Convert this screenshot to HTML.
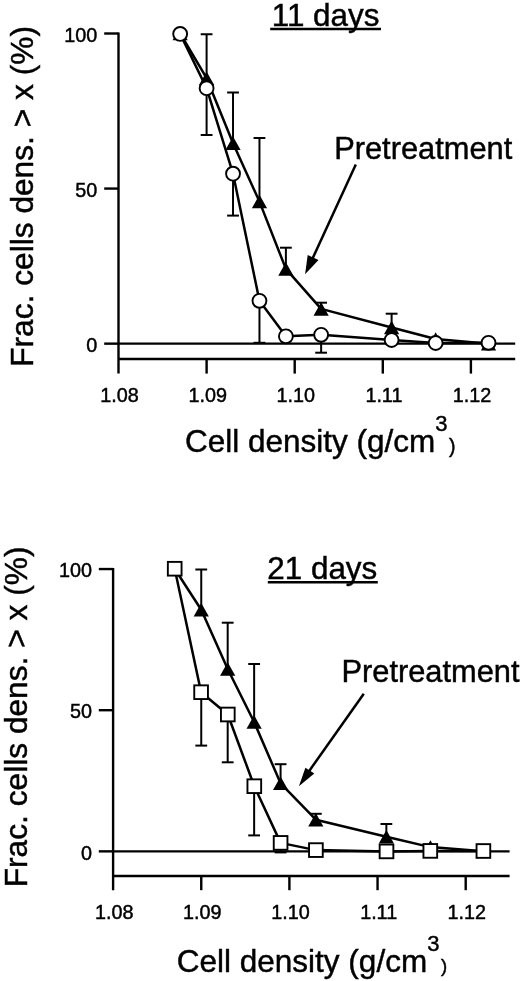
<!DOCTYPE html>
<html><head><meta charset="utf-8"><title>Cell density fractions</title>
<style>
html,body{margin:0;padding:0;background:#fff;}
body{width:520px;height:981px;overflow:hidden;}
svg{display:block;}
</style></head>
<body>
<svg width="520" height="981" viewBox="0 0 520 981" font-family='"Liberation Sans", Arial, Helvetica, sans-serif'>
<rect x="0" y="0" width="520" height="981" fill="#fff"/>
<g fill="#000" stroke="#000">
<line x1="118.50" y1="32.40" x2="118.50" y2="373.60" stroke-width="2.4"/>
<line x1="104.20" y1="33.50" x2="118.50" y2="33.50" stroke-width="2.4"/>
<line x1="104.20" y1="188.57" x2="118.50" y2="188.57" stroke-width="2.4"/>
<line x1="104.20" y1="343.65" x2="118.50" y2="343.65" stroke-width="2.4"/>
<line x1="118.50" y1="343.65" x2="515.20" y2="343.65" stroke-width="2.4"/>
<line x1="118.50" y1="359.00" x2="515.20" y2="359.00" stroke-width="2.4"/>
<line x1="206.60" y1="359.00" x2="206.60" y2="373.60" stroke-width="2.4"/>
<line x1="294.70" y1="359.00" x2="294.70" y2="373.60" stroke-width="2.4"/>
<line x1="382.80" y1="359.00" x2="382.80" y2="373.60" stroke-width="2.4"/>
<line x1="470.90" y1="359.00" x2="470.90" y2="373.60" stroke-width="2.4"/>
<text x="97.20" y="41.70" font-size="19.8" text-anchor="end" stroke-width="0.45">100</text>
<text x="97.20" y="196.77" font-size="19.8" text-anchor="end" stroke-width="0.45">50</text>
<text x="97.20" y="351.85" font-size="19.8" text-anchor="end" stroke-width="0.45">0</text>
<text x="119.60" y="401.60" font-size="19.8" text-anchor="middle" stroke-width="0.45">1.08</text>
<text x="207.70" y="401.60" font-size="19.8" text-anchor="middle" stroke-width="0.45">1.09</text>
<text x="295.80" y="401.60" font-size="19.8" text-anchor="middle" stroke-width="0.45">1.10</text>
<text x="383.90" y="401.60" font-size="19.8" text-anchor="middle" stroke-width="0.45">1.11</text>
<text x="472.00" y="401.60" font-size="19.8" text-anchor="middle" stroke-width="0.45">1.12</text>
<line x1="206.60" y1="34.25" x2="206.60" y2="80.00" stroke-width="2.0"/>
<line x1="200.70" y1="34.25" x2="212.50" y2="34.25" stroke-width="2.0"/>
<line x1="206.60" y1="88.00" x2="206.60" y2="135.00" stroke-width="2.0"/>
<line x1="200.70" y1="135.00" x2="212.50" y2="135.00" stroke-width="2.0"/>
<line x1="233.03" y1="92.50" x2="233.03" y2="144.00" stroke-width="2.0"/>
<line x1="227.13" y1="92.50" x2="238.93" y2="92.50" stroke-width="2.0"/>
<line x1="233.03" y1="173.00" x2="233.03" y2="215.60" stroke-width="2.0"/>
<line x1="227.13" y1="215.60" x2="238.93" y2="215.60" stroke-width="2.0"/>
<line x1="259.46" y1="138.00" x2="259.46" y2="200.00" stroke-width="2.0"/>
<line x1="253.56" y1="138.00" x2="265.36" y2="138.00" stroke-width="2.0"/>
<line x1="259.46" y1="300.00" x2="259.46" y2="342.80" stroke-width="2.0"/>
<line x1="253.56" y1="342.80" x2="265.36" y2="342.80" stroke-width="2.0"/>
<line x1="285.89" y1="247.70" x2="285.89" y2="268.00" stroke-width="2.0"/>
<line x1="279.99" y1="247.70" x2="291.79" y2="247.70" stroke-width="2.0"/>
<line x1="321.13" y1="302.70" x2="321.13" y2="310.00" stroke-width="2.0"/>
<line x1="315.23" y1="302.70" x2="327.03" y2="302.70" stroke-width="2.0"/>
<line x1="321.13" y1="334.00" x2="321.13" y2="352.70" stroke-width="2.0"/>
<line x1="315.23" y1="352.70" x2="327.03" y2="352.70" stroke-width="2.0"/>
<line x1="391.61" y1="313.70" x2="391.61" y2="327.00" stroke-width="2.0"/>
<line x1="385.71" y1="313.70" x2="397.51" y2="313.70" stroke-width="2.0"/>
<polyline points="180.17,33.50 206.60,78.16 233.03,143.29 259.46,201.60 285.89,268.90 321.13,308.91 391.61,327.52 435.66,339.00 488.52,343.65" fill="none" stroke-width="2.5" stroke-linejoin="round"/>
<polyline points="180.17,33.90 206.60,88.20 233.03,173.70 259.46,300.80 285.89,336.30 321.13,334.80 391.61,340.00 435.66,343.00 488.52,342.80" fill="none" stroke-width="2.5" stroke-linejoin="round"/>
<polygon points="180.17,26.75 172.57,40.25 187.77,40.25" stroke="none"/>
<polygon points="206.60,71.41 199.00,84.91 214.20,84.91" stroke="none"/>
<polygon points="233.03,136.54 225.43,150.04 240.63,150.04" stroke="none"/>
<polygon points="259.46,194.85 251.86,208.35 267.06,208.35" stroke="none"/>
<polygon points="285.89,262.15 278.29,275.65 293.49,275.65" stroke="none"/>
<polygon points="321.13,302.16 313.53,315.66 328.73,315.66" stroke="none"/>
<polygon points="391.61,320.77 384.01,334.27 399.21,334.27" stroke="none"/>
<polygon points="435.66,332.25 428.06,345.75 443.26,345.75" stroke="none"/>
<polygon points="488.52,336.90 480.92,350.40 496.12,350.40" stroke="none"/>
<circle cx="180.17" cy="33.90" r="6.95" fill="#fff" stroke-width="1.9"/>
<circle cx="206.60" cy="88.20" r="6.95" fill="#fff" stroke-width="1.9"/>
<circle cx="233.03" cy="173.70" r="6.95" fill="#fff" stroke-width="1.9"/>
<circle cx="259.46" cy="300.80" r="6.95" fill="#fff" stroke-width="1.9"/>
<circle cx="285.89" cy="336.30" r="6.95" fill="#fff" stroke-width="1.9"/>
<circle cx="321.13" cy="334.80" r="6.95" fill="#fff" stroke-width="1.9"/>
<circle cx="391.61" cy="340.00" r="6.95" fill="#fff" stroke-width="1.9"/>
<circle cx="435.66" cy="343.00" r="6.95" fill="#fff" stroke-width="1.9"/>
<circle cx="488.52" cy="342.80" r="6.95" fill="#fff" stroke-width="1.9"/>
<text x="271.80" y="25.80" font-size="31.4" text-anchor="start" stroke-width="0.45">11 days</text>
<line x1="270.20" y1="28.90" x2="381.00" y2="28.90" stroke-width="2.5"/>
<text x="334.20" y="158.80" font-size="30.8" text-anchor="start" stroke-width="0.45">Pretreatment</text>
<line x1="355.80" y1="164.50" x2="310.50" y2="263.00" stroke-width="2.5"/>
<polygon points="307.70,255.00 318.50,260.00 305.10,274.20" stroke="none"/>
<text x="185.00" y="452.20" font-size="31.5" text-anchor="start" stroke-width="0.45">Cell density (g/cm</text>
<text x="435.30" y="430.60" font-size="22" text-anchor="start" stroke-width="0.45">3</text>
<text x="449.00" y="452.60" font-size="19.5" text-anchor="start" stroke-width="0.45">)</text>
<text x="0" y="0" font-size="31.7" stroke-width="0.45" transform="translate(32.60,366.80) rotate(-90)">Frac. cells dens. &gt; x (%)</text>
<line x1="113.10" y1="567.95" x2="113.10" y2="890.20" stroke-width="2.4"/>
<line x1="98.80" y1="569.05" x2="113.10" y2="569.05" stroke-width="2.4"/>
<line x1="98.80" y1="710.20" x2="113.10" y2="710.20" stroke-width="2.4"/>
<line x1="98.80" y1="851.35" x2="113.10" y2="851.35" stroke-width="2.4"/>
<line x1="113.10" y1="851.35" x2="509.60" y2="851.35" stroke-width="2.4"/>
<line x1="113.10" y1="876.00" x2="509.60" y2="876.00" stroke-width="2.4"/>
<line x1="201.25" y1="876.00" x2="201.25" y2="890.20" stroke-width="2.4"/>
<line x1="289.40" y1="876.00" x2="289.40" y2="890.20" stroke-width="2.4"/>
<line x1="377.55" y1="876.00" x2="377.55" y2="890.20" stroke-width="2.4"/>
<line x1="465.70" y1="876.00" x2="465.70" y2="890.20" stroke-width="2.4"/>
<text x="92.00" y="577.25" font-size="19.8" text-anchor="end" stroke-width="0.45">100</text>
<text x="92.00" y="718.40" font-size="19.8" text-anchor="end" stroke-width="0.45">50</text>
<text x="92.00" y="859.55" font-size="19.8" text-anchor="end" stroke-width="0.45">0</text>
<text x="114.20" y="918.80" font-size="19.8" text-anchor="middle" stroke-width="0.45">1.08</text>
<text x="202.35" y="918.80" font-size="19.8" text-anchor="middle" stroke-width="0.45">1.09</text>
<text x="290.50" y="918.80" font-size="19.8" text-anchor="middle" stroke-width="0.45">1.10</text>
<text x="378.65" y="918.80" font-size="19.8" text-anchor="middle" stroke-width="0.45">1.11</text>
<text x="466.80" y="918.80" font-size="19.8" text-anchor="middle" stroke-width="0.45">1.12</text>
<line x1="201.25" y1="569.50" x2="201.25" y2="610.00" stroke-width="2.0"/>
<line x1="195.35" y1="569.50" x2="207.15" y2="569.50" stroke-width="2.0"/>
<line x1="201.25" y1="692.00" x2="201.25" y2="745.60" stroke-width="2.0"/>
<line x1="195.35" y1="745.60" x2="207.15" y2="745.60" stroke-width="2.0"/>
<line x1="227.69" y1="622.70" x2="227.69" y2="668.00" stroke-width="2.0"/>
<line x1="221.79" y1="622.70" x2="233.59" y2="622.70" stroke-width="2.0"/>
<line x1="227.69" y1="714.00" x2="227.69" y2="762.30" stroke-width="2.0"/>
<line x1="221.79" y1="762.30" x2="233.59" y2="762.30" stroke-width="2.0"/>
<line x1="254.14" y1="664.00" x2="254.14" y2="720.00" stroke-width="2.0"/>
<line x1="248.24" y1="664.00" x2="260.04" y2="664.00" stroke-width="2.0"/>
<line x1="254.14" y1="786.00" x2="254.14" y2="835.40" stroke-width="2.0"/>
<line x1="248.24" y1="835.40" x2="260.04" y2="835.40" stroke-width="2.0"/>
<line x1="280.58" y1="764.20" x2="280.58" y2="782.00" stroke-width="2.0"/>
<line x1="274.68" y1="764.20" x2="286.48" y2="764.20" stroke-width="2.0"/>
<line x1="280.58" y1="842.00" x2="280.58" y2="852.40" stroke-width="2.0"/>
<line x1="274.68" y1="852.40" x2="286.48" y2="852.40" stroke-width="2.0"/>
<line x1="315.84" y1="813.80" x2="315.84" y2="820.00" stroke-width="2.0"/>
<line x1="309.94" y1="813.80" x2="321.74" y2="813.80" stroke-width="2.0"/>
<line x1="386.36" y1="824.00" x2="386.36" y2="835.00" stroke-width="2.0"/>
<line x1="380.46" y1="824.00" x2="392.26" y2="824.00" stroke-width="2.0"/>
<polyline points="174.80,569.05 201.25,609.70 227.69,668.98 254.14,722.06 280.58,783.32 315.84,819.73 386.36,836.67 430.44,847.12 483.33,851.35" fill="none" stroke-width="2.5" stroke-linejoin="round"/>
<polyline points="174.70,568.75 201.10,692.20 227.80,714.50 254.30,786.20 280.60,842.90 315.90,850.10 386.50,851.40 430.30,850.90 483.40,851.00" fill="none" stroke-width="2.5" stroke-linejoin="round"/>
<polygon points="174.80,562.30 167.20,575.80 182.40,575.80" stroke="none"/>
<polygon points="201.25,602.95 193.65,616.45 208.85,616.45" stroke="none"/>
<polygon points="227.69,662.23 220.09,675.73 235.29,675.73" stroke="none"/>
<polygon points="254.14,715.31 246.54,728.81 261.74,728.81" stroke="none"/>
<polygon points="280.58,776.57 272.98,790.07 288.18,790.07" stroke="none"/>
<polygon points="315.84,812.98 308.24,826.48 323.44,826.48" stroke="none"/>
<polygon points="386.36,829.92 378.76,843.42 393.96,843.42" stroke="none"/>
<polygon points="430.44,840.37 422.84,853.87 438.04,853.87" stroke="none"/>
<polygon points="483.33,844.60 475.73,858.10 490.93,858.10" stroke="none"/>
<rect x="167.85" y="561.90" width="13.7" height="13.7" fill="#fff" stroke-width="1.9"/>
<rect x="194.25" y="685.35" width="13.7" height="13.7" fill="#fff" stroke-width="1.9"/>
<rect x="220.95" y="707.65" width="13.7" height="13.7" fill="#fff" stroke-width="1.9"/>
<rect x="247.45" y="779.35" width="13.7" height="13.7" fill="#fff" stroke-width="1.9"/>
<rect x="273.75" y="836.05" width="13.7" height="13.7" fill="#fff" stroke-width="1.9"/>
<rect x="309.05" y="843.25" width="13.7" height="13.7" fill="#fff" stroke-width="1.9"/>
<rect x="379.65" y="844.55" width="13.7" height="13.7" fill="#fff" stroke-width="1.9"/>
<rect x="423.45" y="844.05" width="13.7" height="13.7" fill="#fff" stroke-width="1.9"/>
<rect x="476.55" y="844.15" width="13.7" height="13.7" fill="#fff" stroke-width="1.9"/>
<text x="267.30" y="578.60" font-size="31.4" text-anchor="start" stroke-width="0.45">21 days</text>
<line x1="267.80" y1="582.30" x2="377.80" y2="582.30" stroke-width="2.5"/>
<text x="341.50" y="682.20" font-size="30.8" text-anchor="start" stroke-width="0.45">Pretreatment</text>
<line x1="363.80" y1="693.80" x2="303.50" y2="779.00" stroke-width="2.5"/>
<polygon points="305.40,767.70 314.30,773.50 298.90,786.20" stroke="none"/>
<text x="176.80" y="972.00" font-size="31.5" text-anchor="start" stroke-width="0.45">Cell density (g/cm</text>
<text x="427.30" y="950.80" font-size="22" text-anchor="start" stroke-width="0.45">3</text>
<text x="441.00" y="971.70" font-size="18.5" text-anchor="start" stroke-width="0.45">)</text>
<text x="0" y="0" font-size="31.7" stroke-width="0.45" transform="translate(27.30,887.30) rotate(-90)">Frac. cells dens. &gt; x (%)</text>
</g>
</svg>
</body></html>
